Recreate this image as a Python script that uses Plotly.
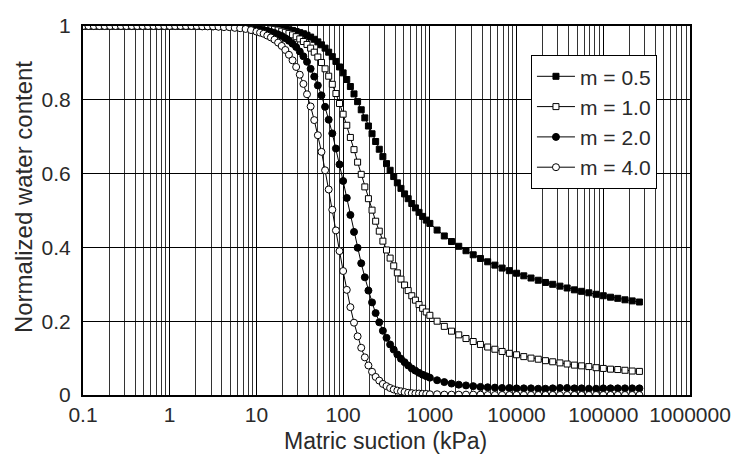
import plotly.graph_objects as go

# Matric suction (kPa) in three stretches
suction_low = [0.1, 0.1155, 0.1334, 0.154, 0.1778, 0.2054, 0.2371, 0.2738, 0.3162, 0.3652, 0.4217, 0.487,
               0.5623, 0.6494, 0.7499, 0.866, 1, 1.155, 1.334, 1.54, 1.778, 2.054, 2.371, 2.738,
               3.162, 3.652, 4.217, 4.87, 5.623, 6.494, 7.499, 8.66]
suction_mid = [10, 11.01, 12.12, 13.34, 14.68, 16.16, 17.78, 19.57, 21.54, 23.71, 26.1, 28.73,
               31.62, 34.81, 38.31, 42.17, 46.42, 51.09, 56.23, 61.9, 68.13, 74.99, 82.54, 90.85,
               100, 110.1, 121.2, 133.4, 146.8, 161.6, 177.8, 195.7, 215.4, 237.1, 261, 287.3,
               316.2, 348.1, 383.1, 421.7, 464.2, 510.9, 562.3, 619, 681.3, 749.9, 825.4, 908.5]
suction_high = [1000, 1212, 1468, 1778, 2154, 2610, 3162, 3831, 4642, 5623, 6813, 8254,
                10000, 12115, 14678, 17783, 21544, 26102, 31623, 38312, 46416, 56234, 68129, 82540,
                100000, 121150, 146780, 177830, 215440, 261020]
suction = suction_low + suction_mid + suction_high

# Normalized water content for each m
m05 = ([1.0] * 28 + [0.999, 0.999, 0.999, 0.999] +
       [0.998, 0.998, 0.997, 0.997, 0.996, 0.995, 0.994, 0.993, 0.992, 0.990, 0.988, 0.985,
        0.982, 0.979, 0.975, 0.970, 0.964, 0.957, 0.949, 0.940, 0.929, 0.917, 0.904, 0.889,
        0.873, 0.855, 0.836, 0.816, 0.795, 0.773, 0.751, 0.729, 0.708, 0.687, 0.666, 0.646,
        0.627, 0.609, 0.592, 0.575, 0.560, 0.545, 0.532, 0.519, 0.507, 0.495, 0.484, 0.474] +
       [0.465, 0.447, 0.431, 0.416, 0.403, 0.391, 0.380, 0.370, 0.361, 0.352, 0.344, 0.337,
        0.330, 0.323, 0.317, 0.311, 0.305, 0.300, 0.295, 0.290, 0.285, 0.281, 0.277, 0.273,
        0.269, 0.265, 0.262, 0.258, 0.255, 0.252])

m10 = ([1.0] * 26 + [0.999, 0.999, 0.999, 0.998, 0.998, 0.997] +
       [0.996, 0.996, 0.995, 0.994, 0.992, 0.991, 0.989, 0.986, 0.983, 0.980, 0.976, 0.971,
        0.965, 0.958, 0.950, 0.940, 0.929, 0.916, 0.901, 0.884, 0.864, 0.842, 0.817, 0.790,
        0.761, 0.731, 0.698, 0.665, 0.631, 0.598, 0.564, 0.532, 0.501, 0.471, 0.444, 0.417,
        0.393, 0.371, 0.350, 0.331, 0.314, 0.298, 0.283, 0.269, 0.257, 0.245, 0.235, 0.225] +
       [0.216, 0.200, 0.186, 0.173, 0.163, 0.153, 0.145, 0.137, 0.130, 0.124, 0.118, 0.113,
        0.109, 0.104, 0.100, 0.097, 0.093, 0.090, 0.087, 0.084, 0.081, 0.079, 0.077, 0.074,
        0.072, 0.070, 0.069, 0.067, 0.065, 0.064])

m20 = ([1.0] * 24 + [0.999, 0.999, 0.999, 0.998, 0.998, 0.997, 0.996, 0.995] +
       [0.993, 0.991, 0.989, 0.987, 0.984, 0.981, 0.977, 0.973, 0.967, 0.960, 0.952, 0.943,
        0.931, 0.918, 0.903, 0.884, 0.863, 0.839, 0.812, 0.781, 0.746, 0.709, 0.668, 0.625,
        0.580, 0.534, 0.488, 0.442, 0.399, 0.357, 0.319, 0.283, 0.251, 0.222, 0.197, 0.174,
        0.155, 0.137, 0.123, 0.110, 0.098, 0.089, 0.080, 0.072, 0.066, 0.060, 0.055, 0.051] +
       [0.047, 0.040, 0.035, 0.031, 0.028, 0.026, 0.024, 0.022, 0.021, 0.020, 0.019, 0.019,
        0.018, 0.018, 0.018, 0.017, 0.017, 0.018, 0.019, 0.019, 0.018, 0.018, 0.017, 0.017,
        0.018, 0.018, 0.018, 0.018, 0.018, 0.018])

m40 = ([1.0] * 22 + [0.999, 0.999, 0.999, 0.998, 0.997, 0.997, 0.995, 0.994, 0.992, 0.989] +
       [0.985, 0.982, 0.979, 0.974, 0.969, 0.963, 0.955, 0.946, 0.935, 0.922, 0.907, 0.889,
        0.868, 0.843, 0.815, 0.782, 0.745, 0.704, 0.659, 0.609, 0.557, 0.502, 0.446, 0.390,
        0.336, 0.285, 0.238, 0.196, 0.159, 0.128, 0.102, 0.080, 0.063, 0.049, 0.039, 0.030,
        0.024, 0.019, 0.015, 0.012, 0.010, 0.008, 0.006, 0.005, 0.004, 0.004, 0.003, 0.003] +
       [0.002, 0.002, 0.001, 0.001, 0.001, 0.001, 0.001, 0.001] + [0.0] * 22)

names = ["m = 0.5", "m = 1.0", "m = 2.0", "m = 4.0"]
series = [m05, m10, m20, m40]
styles = [
    dict(symbol="square", size=6, color="black", line=dict(color="black", width=1)),
    dict(symbol="square", size=6, color="white", line=dict(color="black", width=1)),
    dict(symbol="circle", size=7, color="black", line=dict(color="black", width=1)),
    dict(symbol="circle", size=7, color="white", line=dict(color="black", width=1)),
]

xticks = [0.1, 1, 10, 100, 1000, 10000, 100000, 1000000]
xticklabels = ["0.1", "1", "10", "100", "1000", "10000", "100000", "1000000"]
yticks = [0, 0.2, 0.4, 0.6, 0.8, 1]
yticklabels = ["0", "0.2", "0.4", "0.6", "0.8", "1"]
x_title = "Matric suction (kPa)"
y_title = "Normalized water content"

fig = go.Figure()
for name, ys, st in zip(names, series, styles):
    fig.add_trace(go.Scatter(
        x=suction, y=ys, name=name, mode="lines+markers",
        line=dict(color="black", width=1), marker=st, legendgroup=name,
    ))

font_family = "Liberation Sans, Arial, sans-serif"
text_color = "#2a2a2a"
fig.update_layout(
    width=744, height=455,
    margin=dict(l=83, r=54, t=26, b=60),
    paper_bgcolor="white", plot_bgcolor="white",
    font=dict(family=font_family, size=20, color=text_color),
    showlegend=True,
    legend=dict(
        x=0.738, y=0.921, xanchor="left", yanchor="top",
        bgcolor="white", bordercolor="black", borderwidth=1,
        font=dict(size=21, color=text_color), tracegroupgap=0,
        itemwidth=38,
    ),
    annotations=[
        dict(text=x_title, xref="paper", yref="paper", x=0.498, y=-0.124,
             xanchor="center", yanchor="middle", showarrow=False,
             font=dict(size=23, color=text_color)),
        dict(text=y_title, xref="paper", yref="paper", x=-0.098, y=0.535,
             xanchor="center", yanchor="middle", showarrow=False, textangle=-90,
             font=dict(size=24, color=text_color)),
    ],
)
fig.update_xaxes(
    type="log", range=[-1, 6], automargin=False,
    tickvals=xticks, ticktext=xticklabels, ticks="",
    tickfont=dict(size=21),
    showgrid=True, gridcolor="black", gridwidth=1,
    minor=dict(dtick="D1", showgrid=True, gridcolor="#333", gridwidth=1, ticks=""),
    showline=True, linecolor="black", linewidth=2, mirror=True,
    zeroline=False,
)
fig.update_yaxes(
    range=[0, 1], automargin=False,
    tickvals=yticks, ticktext=yticklabels, ticks="",
    tickfont=dict(size=21), ticklabelstandoff=6,
    showgrid=True, gridcolor="black", gridwidth=1,
    showline=True, linecolor="black", linewidth=2, mirror=True,
    zeroline=False,
)

fig.write_html("out.html")
